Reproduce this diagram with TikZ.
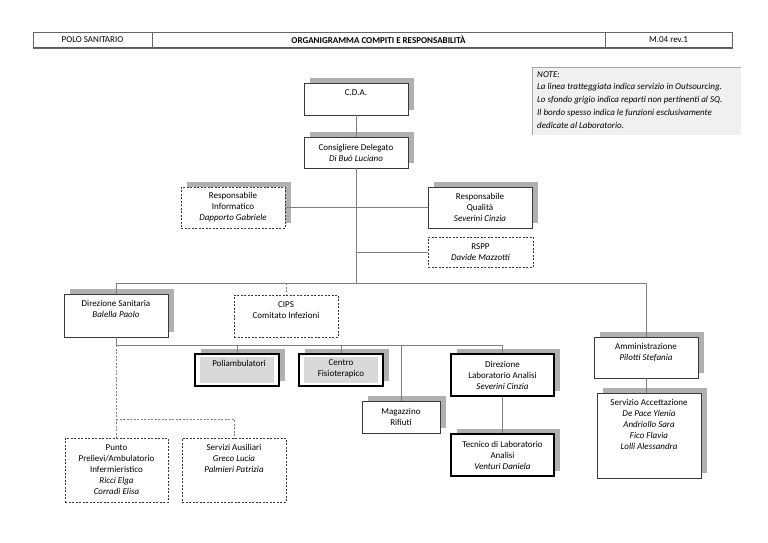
\documentclass[tikz,border=0pt]{standalone}
\usepackage{fontspec}
\setmainfont{Carlito}
\usetikzlibrary{shadows}
\definecolor{lineg}{HTML}{808080}
\definecolor{shadowg}{HTML}{B0B0B0}
\definecolor{innerg}{HTML}{D9D9D9}
\definecolor{noteg}{HTML}{F0F0F0}
\definecolor{bordg}{HTML}{3A3A3A}
\begin{document}
\begin{tikzpicture}[x=1pt,y=-1pt,
  font=\fontsize{9}{11}\selectfont,
  shad/.style={drop shadow={shadow xshift=5.5pt,shadow yshift=5.5pt,fill=shadowg,opacity=1}},
  box/.style={draw=bordg, line width=0.9pt, fill=white, inner sep=0pt, align=center, shad},
  thickbox/.style={box, draw=black, line width=1.6pt},
  dashbox/.style={draw=bordg, fill=white, line width=0.8pt, inner sep=0pt, align=center, dash pattern=on 2pt off 1.5pt},
  txt/.style={anchor=north, align=center, inner sep=0pt},
  conn/.style={draw=lineg, line width=0.7pt},
  dconn/.style={conn, dash pattern=on 2pt off 1.5pt},
  hdr/.style={draw=none, inner sep=0pt}
]
\useasboundingbox[fill=white] (0,0) rectangle (768,543);

% header
\draw[draw=gray!80!black, line width=0.6pt] (33,32) rectangle (732,48);
\draw[draw=gray!70!black, line width=1pt] (33,48) -- (732,48);
\draw[draw=gray!80!black, line width=0.6pt] (152,32) -- (152,48) (605,32) -- (605,48);
\node[hdr] (h1) at (92.5,40) {POLO SANITARIO};
\node[hdr] (h2) at (378.5,40) {\bfseries ORGANIGRAMMA COMPITI E RESPONSABILITÀ};
\node[hdr] (h3) at (668.5,40) {M.04 rev.1};

% note
\fill[noteg] (532,68) rectangle (741,135);
\draw[draw=gray!70, line width=1pt] (532,135) -- (532,68) -- (741,68);
\node[anchor=north west, align=left, inner sep=0pt, font=\fontsize{9}{12.8}\selectfont\itshape] (note) at (537,71)
  {NOTE:\\La linea tratteggiata indica servizio in Outsourcing.\\Lo sfondo grigio indica reparti non pertinenti al SQ.\\Il bordo spesso indica le funzioni esclusivamente\\dedicate al Laboratorio.};

% boxes
\node[box, minimum width=104pt, minimum height=32pt] (cda) at (356,99) {};
\node[txt] at ([yshift=-6.5pt]cda.north) {C.D.A.};

\node[box, minimum width=104pt, minimum height=31pt] (cons) at (356,152.5) {Consigliere Delegato\\\textit{Di Buò Luciano}};

\node[dashbox, shad, minimum width=104pt, minimum height=41pt] (info) at (233,207.5) {Responsabile\\Informatico\\\textit{Dapporto Gabriele}};
\node[box, minimum width=104pt, minimum height=41pt] (qual) at (480,207.5) {Responsabile\\Qualità\\\textit{Severini Cinzia}};
\node[dashbox, minimum width=105pt, minimum height=30pt] (rspp) at (480.5,252) {RSPP\\\textit{Davide Mazzotti}};

\node[box, minimum width=104pt, minimum height=43pt] (dirsan) at (116,315.5) {};
\node[txt] at ([yshift=-6.5pt]dirsan.north) {Direzione Sanitaria\\\textit{Balella Paolo}};

\node[dashbox, minimum width=104pt, minimum height=42pt] (cips) at (286,316) {};
\node[txt] at ([yshift=-6.5pt]cips.north) {CIPS\\Comitato Infezioni};

\node[thickbox, minimum width=84pt, minimum height=32pt] (poli) at (237,370) {};
\fill[innerg] ([shift={(5.5pt,-4pt)}]poli.north west) rectangle ([shift={(-5.5pt,4pt)}]poli.south east);
\node[txt] at ([xshift=2pt,yshift=-6.5pt]poli.north) {Poliambulatori};

\node[thickbox, minimum width=84pt, minimum height=32pt] (centro) at (341,370) {};
\fill[innerg] ([shift={(5.5pt,-4pt)}]centro.north west) rectangle ([shift={(-5.5pt,4pt)}]centro.south east);
\node[txt] at ([yshift=-6.5pt]centro.north) {Centro\\Fisioterapico};

\node[box, minimum width=78pt, minimum height=32pt] (mag) at (401,417) {Magazzino\\Rifiuti};
\node[thickbox, minimum width=103pt, minimum height=42pt] (dirlab) at (502.5,375) {Direzione\\Laboratorio Analisi\\\textit{Severini Cinzia}};
\node[thickbox, minimum width=103pt, minimum height=42pt] (tec) at (502.5,455) {Tecnico di Laboratorio\\Analisi\\\textit{Venturi Daniela}};

\node[box, minimum width=104pt, minimum height=41pt] (amm) at (646,357.5) {};
\node[txt] at ([yshift=-6.5pt]amm.north) {Amministrazione\\\textit{Pilotti Stefania}};

\node[box, minimum width=104pt, minimum height=85pt] (serv) at (649,435.5) {};
\node[txt] at ([yshift=-6.5pt]serv.north) {Servizio Accettazione\\\textit{De Pace Ylenia}\\\textit{Andriollo Sara}\\\textit{Fico Flavia}\\\textit{Lolli Alessandra}};

\node[dashbox, minimum width=103pt, minimum height=64pt] (punto) at (116.5,470) {Punto\\Prelievi/Ambulatorio\\Infermieristico\\\textit{Ricci Elga}\\\textit{Corradi Elisa}};
\node[dashbox, minimum width=104pt, minimum height=64pt] (ausil) at (234,470) {};
\node[txt] at ([yshift=-6.5pt]ausil.north) {Servizi Ausiliari\\\textit{Greco Lucia}\\\textit{Palmieri Patrizia}};

% junction coordinates
\coordinate (j0) at (356,283);
\coordinate (j2) at (116,345);
\coordinate (j3) at (116,419);

% connectors
\draw[conn] (cda.south) -- (cons.north);
\draw[conn] (cons.south) -- (j0);
\draw[conn] (info.east) -- (qual.west);
\draw[conn] (cons.south |- rspp.west) -- (rspp.west);
\draw[conn] (dirsan.north |- j0) -- (amm.north |- j0) -- (amm.north);
\draw[conn] (dirsan.north |- j0) -- (dirsan.north);
\draw[dconn] (cips.north |- j0) -- (cips.north);
\draw[conn] (dirsan.south) -- (j2) -- (dirlab.north |- j2) -- (dirlab.north);
\draw[conn] (poli.north |- j2) -- (poli.north);
\draw[conn] (centro.north |- j2) -- (centro.north);
\draw[conn] (mag.north |- j2) -- (mag.north);
\draw[conn] (dirlab.south) -- (tec.north);
\draw[conn] (amm.south) -- (amm.south |- serv.north);
\draw[dconn] (j2) -- (j3) -- (j3 |- punto.north);
\draw[dconn] (j3) -- (ausil.north |- j3) -- (ausil.north);
\end{tikzpicture}
\end{document}
